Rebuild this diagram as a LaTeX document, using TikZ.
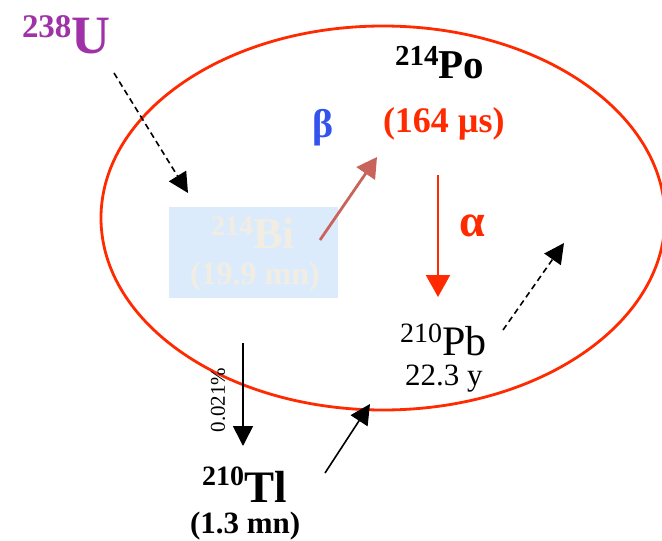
\documentclass[tikz,border=0pt]{standalone}
\usepackage{fontspec}
\setmainfont{Liberation Serif}
\usetikzlibrary{arrows.meta}
\definecolor{nucpurple}{HTML}{A032A8}
\definecolor{betablue}{HTML}{3352EE}
\definecolor{alphared}{HTML}{FF2A00}
\definecolor{betaarrow}{HTML}{C9645C}
\definecolor{biback}{HTML}{DCEBFC}
\definecolor{bitext}{HTML}{F1EDE3}
% superscript mass number + symbol: sizes in pt, raise in pt
\newcommand{\nuc}[5]{{\fontsize{#1pt}{#1pt}\selectfont\raisebox{#5pt}{#2}}{\fontsize{#3pt}{#3pt}\selectfont #4}}
\newcommand{\fsz}[1]{\fontsize{#1pt}{#1pt}\selectfont}

\begin{document}
\begin{tikzpicture}[
    x=1pt,y=-1pt,
    lbl/.style={anchor=base west,inner sep=0pt,outer sep=0pt},
    decay/.style={-{Triangle[length=20pt,width=20pt]},line width=1.6pt},
  ]
  \useasboundingbox (0,0) rectangle (662,541);
  % decay ring
  \draw[alphared,line width=2.8pt] (383,218) ellipse [x radius=282,y radius=192];
  % nuclides
  \node[lbl,text=nucpurple,font=\bfseries] (u238) at (22,53) {\nuc{33}{238}{54}{U}{16}};
  \node[lbl,font=\bfseries] (po214) at (395,78) {\nuc{29}{214}{41}{Po}{13}};
  \node[lbl,text=alphared,font=\bfseries\fsz{36}] (potime) at (383,132) {(164 µs)};
  \node[fill=biback,minimum width=169pt,minimum height=91pt,inner sep=0pt] (bibox) at (253.5,252.5) {};
  \node[lbl,text=bitext,font=\bfseries] (bi214) at (211,248) {\nuc{28}{214}{44}{Bi}{13}};
  \node[lbl,text=bitext,font=\bfseries\fsz{32}] (bitime) at (190,284) {(19.9 mn)};
  \node[lbl] (pb210) at (400,355) {\nuc{28}{210}{42}{Pb}{13}};
  \node[lbl,font=\fsz{31}] (pbtime) at (405,385) {22.3 y};
  \node[lbl,font=\bfseries] (tl210) at (202,502) {\nuc{28}{210}{45}{Tl}{17}};
  \node[lbl,font=\bfseries\fsz{31}] (tltime) at (190,533) {(1.3 mn)};
  % decay labels
  \node[text=betablue,font=\bfseries\fsz{40}] (beta) at (323,128) {β};
  \node[text=alphared,font=\bfseries\fsz{46}] (alpha) at (472,226) {α};
  \node[rotate=90,font=\fsz{21}] (branch) at (218,400) {0.021\%};
  % arrow ends
  \coordinate (uin) at (114,73);
  \coordinate (biin) at (188,193);
  \coordinate (biout) at (320,240);
  \coordinate (potip) at (377,157);
  \coordinate (aout) at (438,175);
  \coordinate (atip) at (438,297);
  \coordinate (pbout) at (503,330);
  \coordinate (pbtip) at (564,243);
  \coordinate (tlin) at (243,343);
  \coordinate (tltip) at (243,446);
  \coordinate (tlout) at (325,473);
  \coordinate (ringin) at (370,404);
  % decays
  \draw[decay,dashed,dash pattern=on 6pt off 4pt] (uin) -- (biin);
  \draw[decay,betaarrow,line width=2.8pt,-{Triangle[length=20pt,width=22pt]}] (biout) -- (potip);
  \draw[decay,alphared,line width=2.2pt,-{Triangle[length=22pt,width=24pt]}] (aout) -- (atip);
  \draw[decay,dashed,dash pattern=on 6pt off 4pt] (pbout) -- (pbtip);
  \draw[decay] (tlin) -- (tltip);
  \draw[decay] (tlout) -- (ringin);
\end{tikzpicture}
\end{document}
